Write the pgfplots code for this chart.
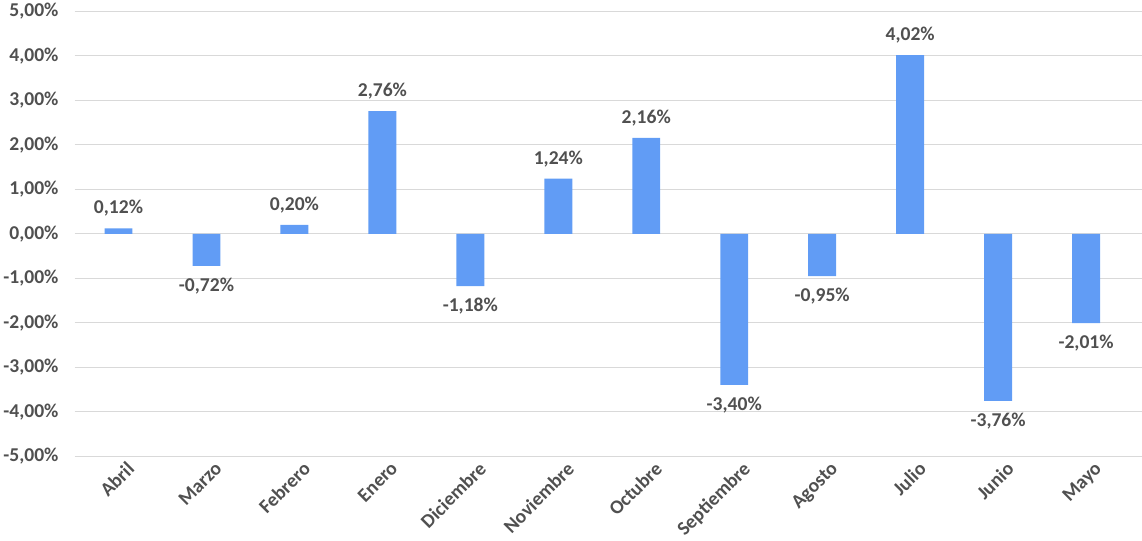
\documentclass[border=0pt]{standalone}
\usepackage{pgfplots}
\pgfplotsset{compat=1.18}
\usepackage{fontspec}
\setmainfont{Carlito}
\definecolor{barc}{RGB}{97,156,245}
\definecolor{txt}{RGB}{80,80,80}
\begin{document}
\begin{tikzpicture}[x=1bp,y=1bp]
\begin{axis}[
  scale only axis, width=1032bp, height=430bp,
  xmin=-0.5, xmax=11.63, ymin=-5, ymax=5,
  axis line style={draw=none}, tick style={draw=none},
  ytick={-5,-4,...,5}, ymajorgrids, grid style={draw=gray!30, line width=1pt},
  xtick={0,...,11},
  xticklabels={Abril,Marzo,Febrero,Enero,Diciembre,Noviembre,Octubre,Septiembre,Agosto,Julio,Junio,Mayo},
  xticklabel style={rotate=45, anchor=north east, font=\bfseries\fontsize{19}{21}\selectfont, text=txt, inner sep=1pt, xshift=6bp, yshift=-4bp},
  yticklabel style={font=\bfseries\fontsize{19}{21}\selectfont, text=txt, xshift=-12bp},
  /pgf/number format/assume math mode=true,
  yticklabel={\pgfmathprintnumber[fixed,fixed zerofill,precision=2,use comma]{\tick}\%},
  ybar, bar width=27bp, bar shift=0pt,
  nodes near coords={\pgfmathprintnumber[fixed,fixed zerofill,precision=2,use comma,assume math mode=true]{\pgfplotspointmeta}\%},
  every node near coord/.append style={font=\bfseries\fontsize{19}{21}\selectfont, text=txt},
  clip=false,
]
\addplot[fill=barc, draw=none, nodes near coords style={anchor=south, yshift=8bp}] coordinates {(0,0.12)(2,0.20)(3,2.76)(5,1.24)(6,2.16)(9,4.02)};
\addplot[fill=barc, draw=none, nodes near coords style={anchor=north, yshift=-8bp}] coordinates {(1,-0.72)(4,-1.18)(7,-3.40)(8,-0.95)(10,-3.76)(11,-2.01)};
\end{axis}
\end{tikzpicture}
\end{document}
